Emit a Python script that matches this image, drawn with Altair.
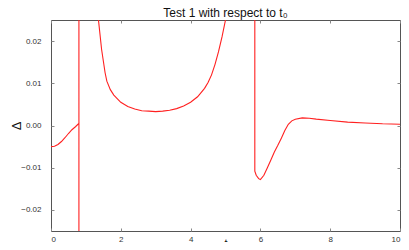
import altair as alt
import pandas as pd

# curve (t, Delta); values beyond +-0.025 are clipped
t_vals = [0.0, 0.1, 0.2, 0.3, 0.4, 0.5, 0.6, 0.7, 0.8, 0.8, 0.8,
          1.2, 1.3, 1.36, 1.45, 1.55, 1.6, 1.7, 1.8, 2.0, 2.2, 2.4, 2.6, 2.8, 3.0,
          3.2, 3.4, 3.6, 3.8, 4.0, 4.2, 4.4, 4.5, 4.6, 4.7, 4.8, 4.9, 5.0, 5.1,
          5.3, 5.84, 5.84, 5.88, 5.95, 6.0, 6.1, 6.2, 6.3, 6.4, 6.5, 6.6, 6.7,
          6.8, 6.9, 7.0, 7.2, 7.4, 7.6, 8.0, 8.5, 9.0, 9.5, 10.0]
d_vals = [-0.0050, -0.0049, -0.0045, -0.0038, -0.0029, -0.0019, -0.0010, -0.0003,
          0.0005, -0.06, 0.06,
          0.06, 0.035, 0.025, 0.018, 0.0125, 0.0105, 0.0085, 0.0072, 0.0055, 0.0045,
          0.0039, 0.0035, 0.0034, 0.0033, 0.0034, 0.0036, 0.0040, 0.0046, 0.0055,
          0.0068, 0.0088, 0.0102, 0.012, 0.0145, 0.0175, 0.021, 0.025, 0.031,
          0.06, 0.06, -0.0108, -0.0118, -0.0126, -0.0128, -0.0118, -0.0100, -0.0082,
          -0.0063, -0.0047, -0.0030, -0.0012, 0.0003, 0.0011, 0.0015, 0.0018,
          0.0017, 0.0015, 0.0012, 0.0008, 0.0006, 0.0004, 0.0003]

x_ticks = [0, 2, 4, 6, 8, 10]
y_ticks = [-0.02, -0.01, 0.0, 0.01, 0.02]

df = pd.DataFrame({"t": t_vals, "d": d_vals, "i": list(range(len(t_vals)))})

font = "Liberation Sans"
tick_col = "#888888"
xs = alt.Scale(domain=[0, 10], nice=False, zero=False)
ys = alt.Scale(domain=[-0.025, 0.025], nice=False, zero=False)

main = alt.Chart(df).mark_line(color="#ff2020", strokeWidth=1.1, clip=True).encode(
    x=alt.X("t:Q", scale=xs, axis=alt.Axis(
        values=x_ticks, format="d", domain=False, offset=-3, tickSize=3,
        tickColor=tick_col, labelPadding=4, labelFontSize=8, labelColor="#333",
        labelFont=font, title="t", titleFont=font, titleFontSize=11,
        titleFontWeight="normal", titleY=9, titleColor="#111", grid=False)),
    y=alt.Y("d:Q", scale=ys, axis=alt.Axis(
        values=y_ticks, format=".2f", domain=False, offset=-3, tickSize=3,
        tickColor=tick_col, labelPadding=10, labelFontSize=8, labelColor="#333",
        labelFont=font, title="Δ", titleFont=font, titleFontSize=13,
        titleFontWeight="normal", titleX=-31, titleColor="#111", grid=False)),
    order="i:Q",
)

ghost = alt.Chart(df).mark_line(opacity=0, clip=True).encode(
    x=alt.X("t:Q", scale=xs, axis=alt.Axis(
        orient="top", values=x_ticks, labels=False, domain=False, offset=-3,
        tickSize=3, tickColor=tick_col, title=None, grid=False, minExtent=0)),
    y=alt.Y("d:Q", scale=ys, axis=alt.Axis(
        orient="right", values=y_ticks, labels=False, domain=False, offset=-3,
        tickSize=3, tickColor=tick_col, title=None, grid=False, minExtent=0)),
    order="i:Q",
)

chart = alt.layer(main, ghost).resolve_axis(x="independent", y="independent").properties(
    width=349, height=211,
    title=alt.TitleParams("Test 1 with respect to t₀", font=font, fontSize=12,
                          fontWeight="normal", color="#111", offset=0),
    autosize=alt.AutoSizeParams(type="none"),
    padding={"left": 43, "top": 12, "right": 1, "bottom": 11},
    background="white",
).configure_view(stroke="#555555", strokeWidth=1)

chart.save("out.html", embed_options={"renderer": "svg", "actions": False})
